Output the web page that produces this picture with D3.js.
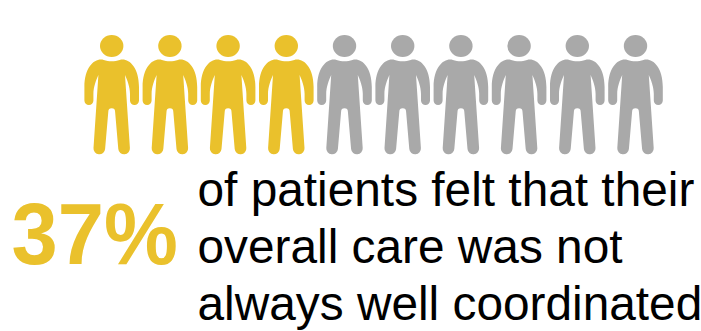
<!DOCTYPE html>
<html><head><meta charset="utf-8">
<script src="https://cdnjs.cloudflare.com/ajax/libs/d3/7.8.5/d3.min.js"></script>
<style>html,body{margin:0;padding:0;background:#fff}svg{display:block}</style>
</head><body><svg id="c" width="701" height="331"></svg>
<script>
const people = [1,2,3,4,5,6,7,8,9,10];
const highlighted = 4;
const statLabel = "37%";
const captionLines = ["of patients felt that their","overall care was not","always well coordinated"];
const colors = {on:"#EAC12C", off:"#A9A9A9"};

const svg = d3.select("#c");
const x = d3.scalePoint().domain(people).range([111.7,635.5]);
const glyph = "M-8 14 C-3 15.8,3 15.8,8 14 C16 11.5,27.3 20,27.3 41 L27.3 54.5 A4.5 4.5 0 0 1 18.3 54.5 L18.3 48 C18.3 41,15.5 34,13.3 29 L18.2 102 A5.8 5.8 0 0 1 6.6 103 L3.4 65.7 A3.4 3.4 0 0 0 -3.4 65.7 L-6.6 103 A5.8 5.8 0 0 1 -18.2 102 L-13.3 29 C-15.5 34,-18.3 41,-18.3 48 L-18.3 54.5 A4.5 4.5 0 0 1 -27.3 54.5 L-27.3 41 C-27.3 20,-16 11.5,-8 14 Z";
const g = svg.selectAll("g.person").data(people).join("g")
  .attr("class","person")
  .attr("transform",d=>`translate(${x(d)},46)`)
  .attr("fill",d=>d<=highlighted?colors.on:colors.off);
g.append("ellipse").attr("rx",11.7).attr("ry",11);
g.append("path").attr("d",glyph);

svg.append("text").attr("transform","translate(11.5,263.5) scale(0.955,1)")
  .style("font","bold 87px 'Liberation Sans'").attr("fill",colors.on).text(statLabel);
const y = d3.scalePoint().domain(captionLines).range([206,319.5]);
svg.selectAll("text.cap").data(captionLines).join("text").attr("class","cap")
  .attr("x",197.5).attr("y",d=>y(d))
  .style("font","47.8px 'Liberation Sans'").attr("fill","#000").text(d=>d);
</script></body></html>
